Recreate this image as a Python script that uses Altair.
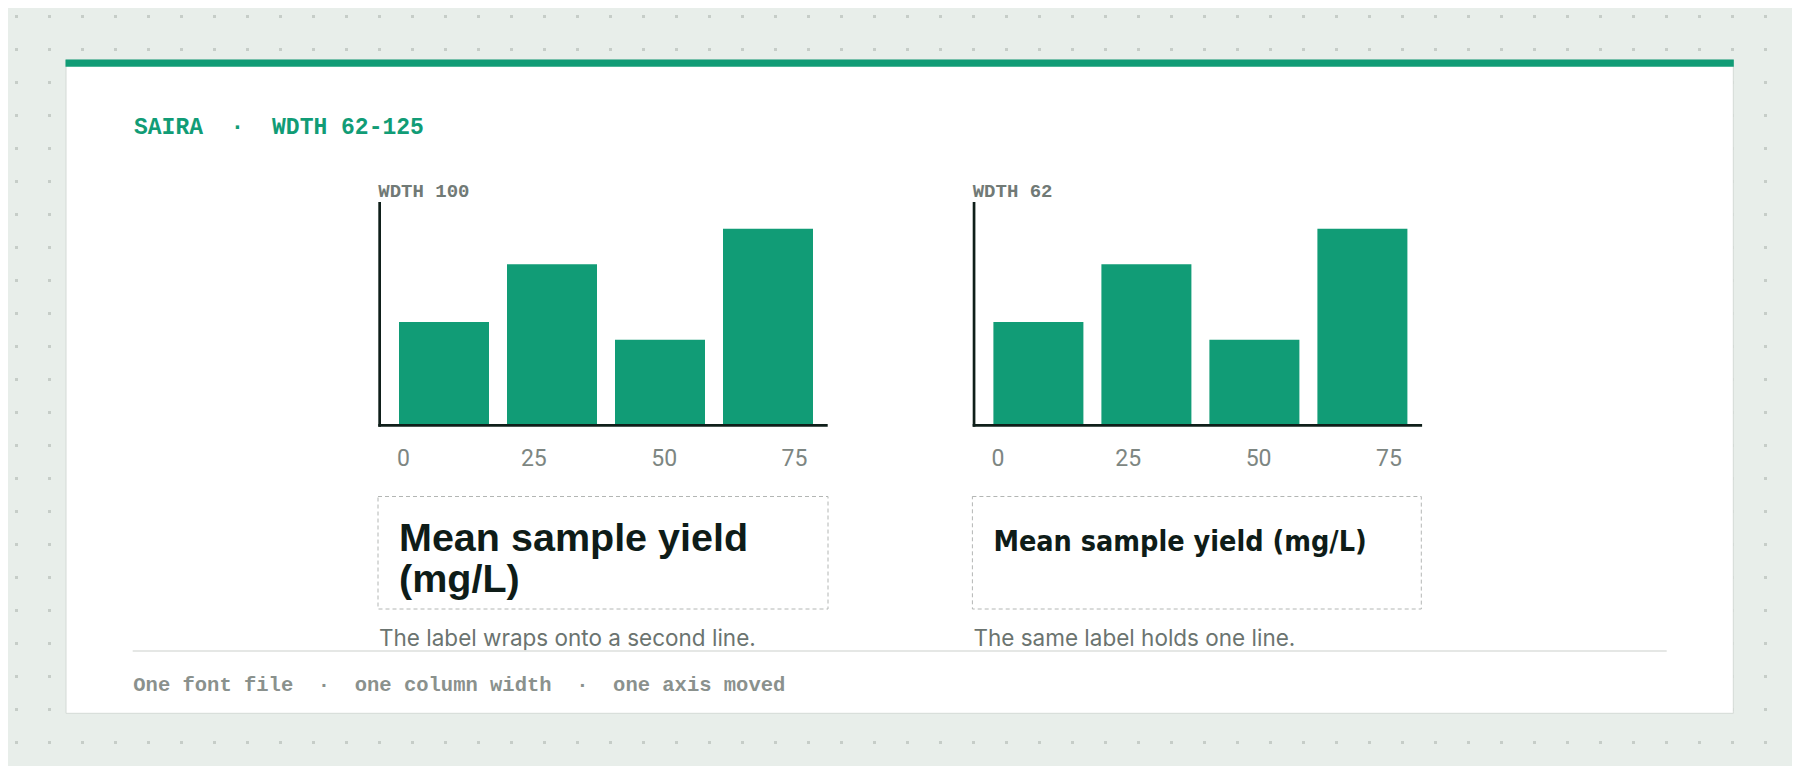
import altair as alt
import pandas as pd

# ---------------- data ----------------
categories = ["0", "25", "50", "75"]
values = [46, 72, 38, 88]
tick_labels = ["0", "25", "50", "75"]
panel_names = ["WDTH 100", "WDTH 62"]
caption_wrapped = "Mean sample yield\n(mg/L)"
caption_single = "Mean sample yield (mg/L)"
notes = ["The label wraps onto a second line.", "The same label holds one line."]
NB = "\u00a0"
title_text = "SAIRA" + NB * 2 + "·" + NB * 2 + "WDTH 62-125"
footer_text = ("One font file" + NB * 2 + "·" + NB * 2 + "one column width"
               + NB * 2 + "·" + NB * 2 + "one axis moved")

# ---------------- style ----------------
W, H = 1784, 758
GREEN = "#119c76"
INK = "#0e1c18"
AXIS = "#0f1f1a"
MUTED = "#717a76"
NOTE = "#6b7470"
FOOT = "#8a918d"
BG = "#e8eeea"
MONO = "Liberation Mono"


def px(v):
    return v - 8  # page pixel -> chart pixel (page margin 8px)


one = pd.DataFrame({"k": [0]})

# dotted background (axis grid with dash pattern)
dots = alt.Chart(one).mark_point(opacity=0).encode(
    x=alt.X("k:Q",
            scale=alt.Scale(domain=[0, 54], range=[px(16), px(16) + 33 * 54], nice=False, zero=False),
            axis=alt.Axis(orient="top", grid=True, labels=False, ticks=False, domain=False,
                          tickCount=54, gridColor="#c6cdc8", gridWidth=3,
                          gridDash=[3, 30], gridDashOffset=26.5, title=""))
)

card = alt.Chart(one).mark_rect(fill="#ffffff", stroke="#d4dad6", strokeWidth=1).encode(
    x=alt.value(px(66)), x2=alt.value(px(1733.3)), y=alt.value(px(60)), y2=alt.value(px(713.3))
)
accent = alt.Chart(one).mark_rect(fill=GREEN).encode(
    x=alt.value(px(65.5)), x2=alt.value(px(1733.8)), y=alt.value(px(59.5)), y2=alt.value(px(66.8))
)

title = alt.Chart(pd.DataFrame({"t": [title_text]})).mark_text(
    align="left", baseline="alphabetic", font=MONO, fontSize=23, fontWeight="bold", color=GREEN
).encode(x=alt.value(px(134)), y=alt.value(px(134.3)), text="t:N")

separator = alt.Chart(one).mark_rule(color="#dcdfdd", strokeWidth=1.3).encode(
    x=alt.value(px(132.7)), x2=alt.value(px(1666.7)), y=alt.value(px(651))
)

footer = alt.Chart(pd.DataFrame({"t": [footer_text]})).mark_text(
    align="left", baseline="alphabetic", font=MONO, fontSize=20.5, fontWeight="bold", color=FOOT
).encode(x=alt.value(px(133.3)), y=alt.value(px(691)), text="t:N")

bars_df = pd.DataFrame({"category": categories, "value": values})
ticks_df = pd.DataFrame({"tick": tick_labels})


def panel(i, L, caption, cap_font, cap_size, box_right):
    layers = []
    layers.append(
        alt.Chart(pd.DataFrame({"t": [panel_names[i]]})).mark_text(
            align="left", baseline="alphabetic", font=MONO, fontSize=19, fontWeight="bold", color=MUTED
        ).encode(x=alt.value(px(L)), y=alt.value(px(197.3)), text="t:N")
    )
    layers.append(
        alt.Chart(bars_df).mark_bar(color=GREEN).encode(
            x=alt.X("category:N", sort=categories,
                    scale=alt.Scale(range=[px(L + 11.7), px(L + 443.7)], paddingInner=1 / 6, paddingOuter=1 / 12),
                    axis=None),
            y=alt.Y("value:Q", scale=alt.Scale(domain=[0, 100], range=[px(424), px(202)], nice=False),
                    axis=None),
        )
    )
    # axis lines
    layers.append(
        alt.Chart(one).mark_rule(color=AXIS, strokeWidth=2.7).encode(
            x=alt.value(px(L + 1.35)), y=alt.value(px(202)), y2=alt.value(px(426.7))
        )
    )
    layers.append(
        alt.Chart(one).mark_rule(color=AXIS, strokeWidth=2.7).encode(
            x=alt.value(px(L)), x2=alt.value(px(L + 449.4)), y=alt.value(px(425.35))
        )
    )
    # tick labels
    layers.append(
        alt.Chart(ticks_df).mark_text(
            align="center", baseline="alphabetic", font="Roboto", fontSize=23, fontWeight=400, color="#7d8682"
        ).encode(
            x=alt.X("tick:N", sort=tick_labels,
                    scale=alt.Scale(type="point", range=[px(L + 25.2), px(L + 416.2)], padding=0),
                    axis=None),
            y=alt.value(px(466)),
            text="tick:N",
        )
    )
    # caption box
    layers.append(
        alt.Chart(one).mark_rect(fill="#ffffff", fillOpacity=0, stroke="#b3b6b4", strokeWidth=1,
                                 strokeDash=[4, 3]).encode(
            x=alt.value(px(L - 0.3)), x2=alt.value(px(box_right)), y=alt.value(px(496.5)), y2=alt.value(px(609))
        )
    )
    layers.append(
        alt.Chart(pd.DataFrame({"t": [caption]})).mark_text(
            align="left", baseline="alphabetic", font=cap_font, fontSize=cap_size, fontWeight="bold",
            color=INK, lineBreak="\n", lineHeight=41.6
        ).encode(x=alt.value(px(L + 20.7)), y=alt.value(px(550.7)), text="t:N")
    )
    layers.append(
        alt.Chart(pd.DataFrame({"t": [notes[i]]})).mark_text(
            align="left", baseline="alphabetic", font="Inter", fontSize=22.5, color=NOTE
        ).encode(x=alt.value(px(L + 0.7)), y=alt.value(px(645.7)), text="t:N")
    )
    return layers


left = panel(0, 378.3, caption_wrapped, "Liberation Sans", 39.5, 828)
right = panel(1, 972.7, caption_single, "DejaVu Sans Condensed", 28.5, 1421.3)

chart = alt.layer(
    dots, card, accent, title, *left, *right, separator, footer
).resolve_scale(
    x="independent", y="independent"
).properties(
    width=W, height=H, padding=0, background=BG,
    autosize=alt.AutoSizeParams(type="none"),
).configure_view(strokeWidth=0)

chart.save("out.html", embed_options={"renderer": "svg", "actions": False})
